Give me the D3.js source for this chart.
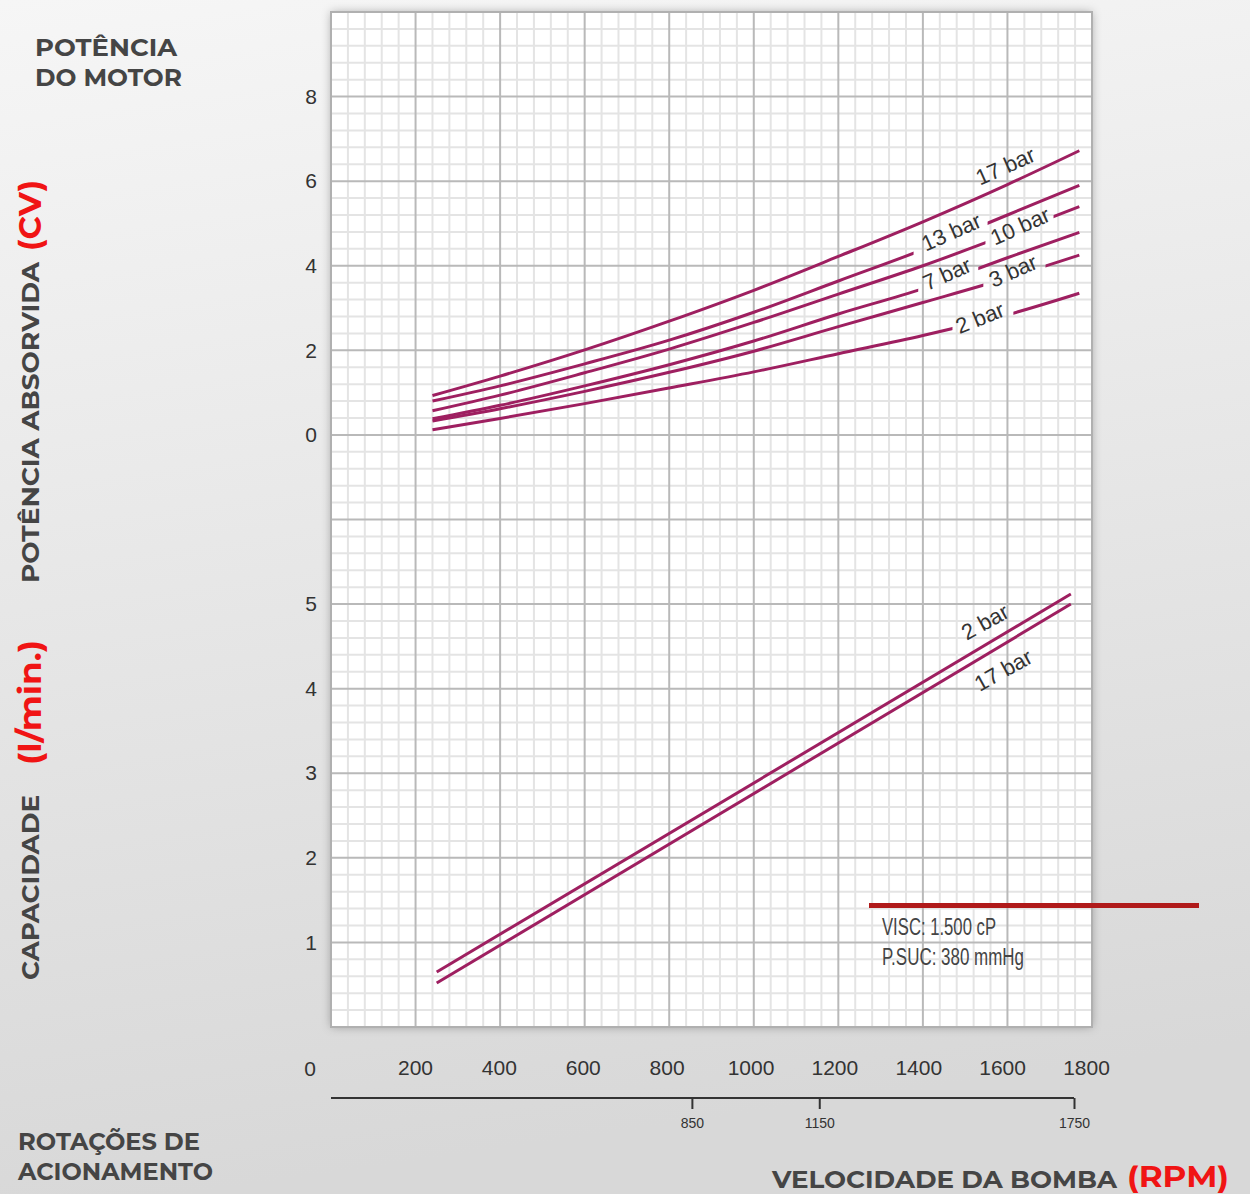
<!DOCTYPE html>
<html>
<head>
<meta charset="utf-8">
<script src="https://cdn.jsdelivr.net/npm/d3@7"></script>
<style>
  body { margin: 0; background: #e6e6e6; }
  svg { display: block; }
</style>
</head>
<body>
<svg id="chart" width="1250" height="1194"></svg>
<script>
// ---- data ----
// power absorbed (CV) vs drive speed (rpm)
const rpmPower = [240, 400, 600, 800, 1000, 1200, 1400, 1600, 1770];
const power17 = [0.93, 1.39, 2.01, 2.69, 3.42, 4.22, 5.04, 5.92, 6.72];
const power13 = [0.80, 1.16, 1.68, 2.24, 2.90, 3.64, 4.38, 5.20, 5.90];
const power10 = [0.57, 0.94, 1.47, 2.03, 2.66, 3.33, 4.00, 4.74, 5.40];
const power7  = [0.38, 0.70, 1.16, 1.66, 2.22, 2.86, 3.46, 4.19, 4.79];
const power3  = [0.33, 0.62, 1.03, 1.48, 1.98, 2.56, 3.13, 3.71, 4.25];
const power2  = [0.12, 0.39, 0.74, 1.11, 1.49, 1.92, 2.35, 2.84, 3.35];

// capacity (l/min) vs drive speed
const rpmFlow = [250, 1750];
const flow2  = [0.65, 5.12];
const flow17 = [0.52, 5.00];

// ticks
const rpmTicks = [200, 400, 600, 800, 1000, 1200, 1400, 1600, 1800];
const powerTicks = [0, 2, 4, 6, 8];
const flowTicks = [1, 2, 3, 4, 5];
const pumpTicks = [850, 1150, 1750];

const infoLines = ["VISC: 1.500 cP", "P.SUC: 380 mmHg"];

// ---- setup ----
const svg = d3.select("#chart");
const W = 1250, H = 1194;
const lineColor = "#9e1f60";
const grayText = "#454545";
const redText = "#f01414";

const defs = svg.append("defs");
const bg = defs.append("linearGradient").attr("id", "bg")
  .attr("x1", 0).attr("y1", 0).attr("x2", 0.15).attr("y2", 1);
bg.append("stop").attr("offset", "0%").attr("stop-color", "#f6f6f6");
bg.append("stop").attr("offset", "100%").attr("stop-color", "#d8d8d8");

defs.append("filter").attr("id", "shadow")
  .attr("x", -0.05).attr("y", -0.05).attr("width", 1.1).attr("height", 1.1)
  .append("feDropShadow")
  .attr("dx", 0).attr("dy", 0).attr("stdDeviation", 5)
  .attr("flood-color", "#000").attr("flood-opacity", 0.3);

svg.append("rect").attr("width", W).attr("height", H).attr("fill", "url(#bg)");

// scales
const x = d3.scaleLinear().domain([0, 1800]).range([331, 1092]);
const xLabel = d3.scaleLinear().domain([200, 1800]).range([415, 1086]);
const xPump = d3.scaleLinear().domain([0, 1750]).range([331, 1074]);
const yGrid = d3.scaleLinear().domain([0, 12]).range([1027, 12]);
const yPower = d3.scaleLinear().domain([0, 8]).range([yGrid(7), yGrid(11)]);
const yFlow = d3.scaleLinear().domain([0, 5]).range([yGrid(0), yGrid(5)]);

// frame
svg.append("rect")
  .attr("x", x(0)).attr("y", yGrid(12))
  .attr("width", x(1800) - x(0)).attr("height", yGrid(0) - yGrid(12))
  .attr("fill", "#fff").attr("filter", "url(#shadow)");

// grid
const grid = svg.append("g");
const minorX = d3.range(0, 1801, 40);
const minorY = d3.range(0, 12.01, 0.2);
grid.selectAll(".vmin").data(minorX.filter(v => v % 200 !== 0)).join("line")
  .attr("x1", d => x(d)).attr("x2", d => x(d))
  .attr("y1", yGrid(12)).attr("y2", yGrid(0))
  .attr("stroke", "#e4e4e4").attr("stroke-width", 2);
grid.selectAll(".hmin").data(minorY.filter(v => Math.abs(v - Math.round(v)) > 0.01)).join("line")
  .attr("y1", d => yGrid(d)).attr("y2", d => yGrid(d))
  .attr("x1", x(0)).attr("x2", x(1800))
  .attr("stroke", "#e4e4e4").attr("stroke-width", 2);
grid.selectAll(".vmaj").data(d3.range(200, 1800, 200)).join("line")
  .attr("x1", d => x(d)).attr("x2", d => x(d))
  .attr("y1", yGrid(12)).attr("y2", yGrid(0))
  .attr("stroke", "#b9b9b9").attr("stroke-width", 2);
grid.selectAll(".hmaj").data(d3.range(1, 12)).join("line")
  .attr("y1", d => yGrid(d)).attr("y2", d => yGrid(d))
  .attr("x1", x(0)).attr("x2", x(1800))
  .attr("stroke", "#b9b9b9").attr("stroke-width", 2);
svg.append("rect")
  .attr("x", x(0)).attr("y", yGrid(12))
  .attr("width", x(1800) - x(0)).attr("height", yGrid(0) - yGrid(12))
  .attr("fill", "none").attr("stroke", "#b0b0b0").attr("stroke-width", 2);

// ---- curves ----
const powerSeries = [
  { name: "17 bar", values: power17, gap: null },
  { name: "13 bar", values: power13, gap: [1378, 1553] },
  { name: "10 bar", values: power10, gap: [1548, 1709] },
  { name: "7 bar",  values: power7,  gap: [1389, 1531] },
  { name: "3 bar",  values: power3,  gap: [1543, 1690] },
  { name: "2 bar",  values: power2,  gap: [1470, 1614] }
];

const powerLine = d3.line()
  .x(d => x(d[0])).y(d => yPower(d[1]))
  .curve(d3.curveMonotoneX);

powerSeries.forEach((s, i) => {
  let mask = null;
  if (s.gap) {
    const m = defs.append("mask").attr("id", "gap" + i)
      .attr("maskUnits", "userSpaceOnUse")
      .attr("x", 0).attr("y", 0).attr("width", W).attr("height", H);
    m.append("rect").attr("width", W).attr("height", H).attr("fill", "#fff");
    m.append("rect").attr("x", x(s.gap[0])).attr("y", 0)
      .attr("width", x(s.gap[1]) - x(s.gap[0])).attr("height", H).attr("fill", "#000");
    mask = "url(#gap" + i + ")";
  }
  svg.append("path")
    .datum(d3.zip(rpmPower, s.values))
    .attr("d", powerLine)
    .attr("fill", "none")
    .attr("stroke", lineColor)
    .attr("stroke-width", 3)
    .attr("mask", mask);
});

const flowLine = d3.line().x(d => x(d[0])).y(d => yFlow(d[1]));
[flow2, flow17].forEach(vals => {
  svg.append("path")
    .datum(d3.zip(rpmFlow, vals))
    .attr("d", flowLine)
    .attr("fill", "none")
    .attr("stroke", lineColor)
    .attr("stroke-width", 3);
});

// curve labels (position in data units)
const curveLabels = [
  { text: "17 bar", rpm: 1595, v: 6.36, y: yPower, a: -24 },
  { text: "13 bar", rpm: 1467, v: 4.80, y: yPower, a: -24 },
  { text: "10 bar", rpm: 1630, v: 4.94, y: yPower, a: -24 },
  { text: "7 bar",  rpm: 1457, v: 3.81, y: yPower, a: -24 },
  { text: "3 bar",  rpm: 1613, v: 3.88, y: yPower, a: -24 },
  { text: "2 bar",  rpm: 1535, v: 2.77, y: yPower, a: -22 },
  { text: "2 bar",  rpm: 1547, v: 4.79, y: yFlow, a: -29 },
  { text: "17 bar", rpm: 1590, v: 4.22, y: yFlow, a: -29 }
];
svg.selectAll(".clabel").data(curveLabels).join("text")
  .attr("transform", d => `translate(${x(d.rpm)},${d.y(d.v)}) rotate(${d.a})`)
  .attr("text-anchor", "middle")
  .attr("dy", "0.35em")
  .attr("font-family", "Liberation Sans, Arial, sans-serif")
  .attr("font-size", 22)
  .attr("fill", "#333")
  .text(d => d.text);

// ---- axes ----
const tickFont = "Liberation Sans, Arial, sans-serif";
const fmt = d3.format("d");
const axisText = g => g.call(a => a.select(".domain").remove())
  .call(a => a.selectAll(".tick line").remove())
  .call(a => a.selectAll("text")
    .attr("font-family", tickFont).attr("font-size", 21).attr("fill", "#333"));

svg.append("g").attr("transform", "translate(317,0)")
  .call(d3.axisLeft(yPower).tickValues(powerTicks).tickFormat(fmt).tickSize(0).tickPadding(0))
  .call(axisText);
svg.append("g").attr("transform", "translate(317,0)")
  .call(d3.axisLeft(yFlow).tickValues(flowTicks).tickFormat(fmt).tickSize(0).tickPadding(0))
  .call(axisText);
svg.append("g").attr("transform", "translate(0,1060)")
  .call(d3.axisBottom(xLabel).tickValues(rpmTicks).tickFormat(fmt).tickSize(0).tickPadding(0))
  .call(axisText);
svg.append("text").attr("x", 310).attr("y", 1076)
  .attr("text-anchor", "middle")
  .attr("font-family", tickFont).attr("font-size", 21).attr("fill", "#333")
  .text("0");

// pump speed axis
const pump = svg.append("g").attr("transform", "translate(0,1098)")
  .call(d3.axisBottom(xPump).tickValues(pumpTicks).tickFormat(fmt)
    .tickSize(11).tickSizeOuter(0).tickPadding(9));
pump.select(".domain").attr("d", `M${x(0)},0H${xPump(1750)}`)
  .attr("stroke", "#333").attr("stroke-width", 2);
pump.selectAll(".tick line").attr("stroke", "#333").attr("stroke-width", 2);
pump.selectAll("text").attr("font-family", tickFont).attr("font-size", 14).attr("fill", "#333");

// ---- info box ----
svg.append("rect").attr("x", 869).attr("y", 903).attr("width", 330).attr("height", 5)
  .attr("fill", "#b01a1a");
svg.selectAll(".info").data(infoLines).join("text")
  .attr("x", 882).attr("y", (d, i) => 935 + i * 30)
  .attr("font-family", "Liberation Sans Narrow, Liberation Sans, Arial, sans-serif")
  .attr("font-size", 23)
  .attr("fill", "#444")
  .attr("textLength", (d, i) => [114, 142][i])
  .attr("lengthAdjust", "spacingAndGlyphs")
  .text(d => d);

// ---- titles ----
const titleFont = "Montserrat, Inter, Open Sans, sans-serif";
function label(txt, tx, ty, rot, size, color, len) {
  svg.append("text")
    .attr("transform", `translate(${tx},${ty}) rotate(${rot})`)
    .attr("font-family", titleFont)
    .attr("font-weight", 700)
    .attr("font-size", size)
    .attr("fill", color)
    .attr("textLength", len)
    .attr("lengthAdjust", "spacingAndGlyphs")
    .text(txt);
}
label("POTÊNCIA", 35, 56, 0, 23, grayText, 142);
label("DO MOTOR", 35, 86, 0, 23, grayText, 147);
label("POTÊNCIA ABSORVIDA", 39, 583, -90, 23, grayText, 321);
label("(CV)", 41, 251, -90, 30, redText, 71);
label("CAPACIDADE", 39, 980, -90, 23, grayText, 185);
label("(l/min.)", 41, 765, -90, 30, redText, 125);
label("ROTAÇÕES DE", 18, 1150, 0, 23, grayText, 182);
label("ACIONAMENTO", 18, 1180, 0, 23, grayText, 195);
label("VELOCIDADE DA BOMBA", 772, 1188, 0, 23, grayText, 345);
label("(RPM)", 1127, 1187, 0, 29, redText, 102);
</script>
</body>
</html>
